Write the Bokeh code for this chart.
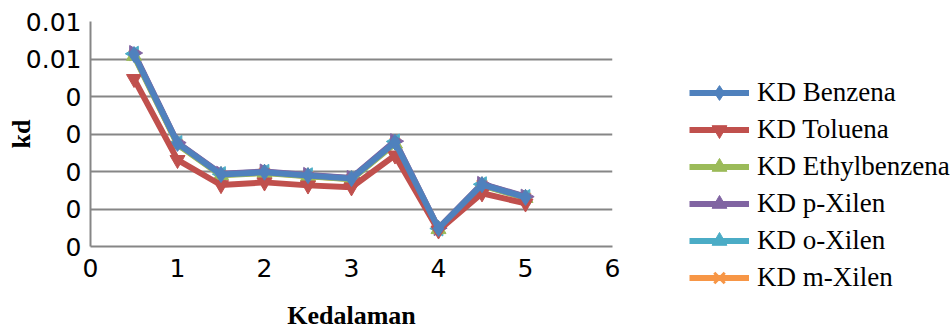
import math
from bokeh.plotting import figure
from bokeh.models import (Range1d, FixedTicker, CustomJSTickFormatter, Legend,
                          LegendItem)
from bokeh.embed import file_html
from bokeh.resources import INLINE

# ---- data ----
kedalaman = [0.5, 1.0, 1.5, 2.0, 2.5, 3.0, 3.5, 4.0, 4.5, 5.0]
kd_benzena = [0.00512, 0.00275, 0.00192, 0.00198, 0.00189, 0.00181, 0.00278, 0.00048, 0.00165, 0.00131]
kd_toluena = [0.00447, 0.00231, 0.00164, 0.00171, 0.00163, 0.00158, 0.00243, 0.00043, 0.00142, 0.00115]
kd_ethylbenzena = [0.00508, 0.00272, 0.00190, 0.00196, 0.00187, 0.00179, 0.00274, 0.00046, 0.00163, 0.00129]
kd_pxilen = [0.00516, 0.00277, 0.00194, 0.00200, 0.00191, 0.00183, 0.00281, 0.00049, 0.00167, 0.00133]
kd_oxilen = [0.00514, 0.00276, 0.00193, 0.00199, 0.00190, 0.00182, 0.00280, 0.00048, 0.00166, 0.00132]
kd_mxilen = [0.00510, 0.00273, 0.00191, 0.00197, 0.00188, 0.00180, 0.00276, 0.00047, 0.00164, 0.00130]

series_names = ["KD Benzena", "KD Toluena", "KD Ethylbenzena", "KD p-Xilen", "KD o-Xilen", "KD m-Xilen"]
series_values = [kd_benzena, kd_toluena, kd_ethylbenzena, kd_pxilen, kd_oxilen, kd_mxilen]
series_colors = ["#4F81BD", "#C0504D", "#9BBB59", "#8064A2", "#4BACC6", "#F79646"]
series_markers = ["diamond", "inverted_triangle", "triangle", "triangle", "triangle", "x"]
series_angles = [0, 0, 0, -math.pi / 2, math.pi / 2, 0]
series_sizes = [16, 15, 15, 15, 15, 14]

x_ticks = [0, 1, 2, 3, 4, 5, 6]
y_ticks = [0.0, 0.001, 0.002, 0.003, 0.004, 0.005, 0.006]

GRID = "#868686"

p = figure(output_backend="svg", toolbar_location=None,
           x_range=Range1d(0, 6), y_range=Range1d(0, 0.006),
           frame_width=522, frame_height=225,
           min_border_left=90, min_border_right=338, min_border_top=21, min_border_bottom=80)
p.outline_line_color = None
p.background_fill_color = "white"
p.border_fill_color = "white"

p.xgrid.visible = False
p.ygrid.grid_line_color = GRID
p.ygrid.grid_line_width = 2

p.xaxis.ticker = FixedTicker(ticks=x_ticks)
p.yaxis.ticker = FixedTicker(ticks=y_ticks)
p.yaxis.formatter = CustomJSTickFormatter(code="return (Math.round(tick*100)/100).toString();")

for ax in (p.xaxis[0], p.yaxis[0]):
    ax.axis_line_color = GRID
    ax.axis_line_width = 2
    ax.major_tick_line_color = None
    ax.minor_tick_line_color = None
    ax.major_tick_out = 0
    ax.major_tick_in = 0
    ax.major_label_text_font = "DejaVu Sans"
    ax.major_label_text_font_size = "25px"
    ax.major_label_text_color = "black"
    ax.axis_label_text_font = "Liberation Serif"
    ax.axis_label_text_font_size = "26px"
    ax.axis_label_text_font_style = "bold"
    ax.axis_label_text_color = "black"

p.xaxis.axis_label = "Kedalaman"
p.yaxis.axis_label = "kd"
p.xaxis.major_label_standoff = 12
p.yaxis.major_label_standoff = 9
p.xaxis.axis_label_standoff = 21
p.yaxis.axis_label_standoff = -13

renders = {}
order = [5, 4, 3, 2, 1, 0]
for i in order:
    ln = p.line(kedalaman, series_values[i], line_color=series_colors[i], line_width=6)
    sc = p.scatter(kedalaman, series_values[i], marker=series_markers[i], size=series_sizes[i],
                   angle=series_angles[i], fill_color=series_colors[i],
                   line_color=series_colors[i], line_width=3 if series_markers[i] == "x" else 1)
    renders[i] = [ln, sc]

items = [LegendItem(label=series_names[i], renderers=renders[i]) for i in range(6)]
legend = Legend(items=items, location=(77, -50), orientation="vertical",
                border_line_color=None, background_fill_alpha=0,
                padding=0, margin=0, spacing=0,
                glyph_width=60, glyph_height=37, label_height=26,
                label_standoff=8,
                label_text_font="Liberation Serif", label_text_font_size="27px",
                label_text_color="black")
p.add_layout(legend, "right")

open("out.html", "w").write(file_html(p, INLINE))
